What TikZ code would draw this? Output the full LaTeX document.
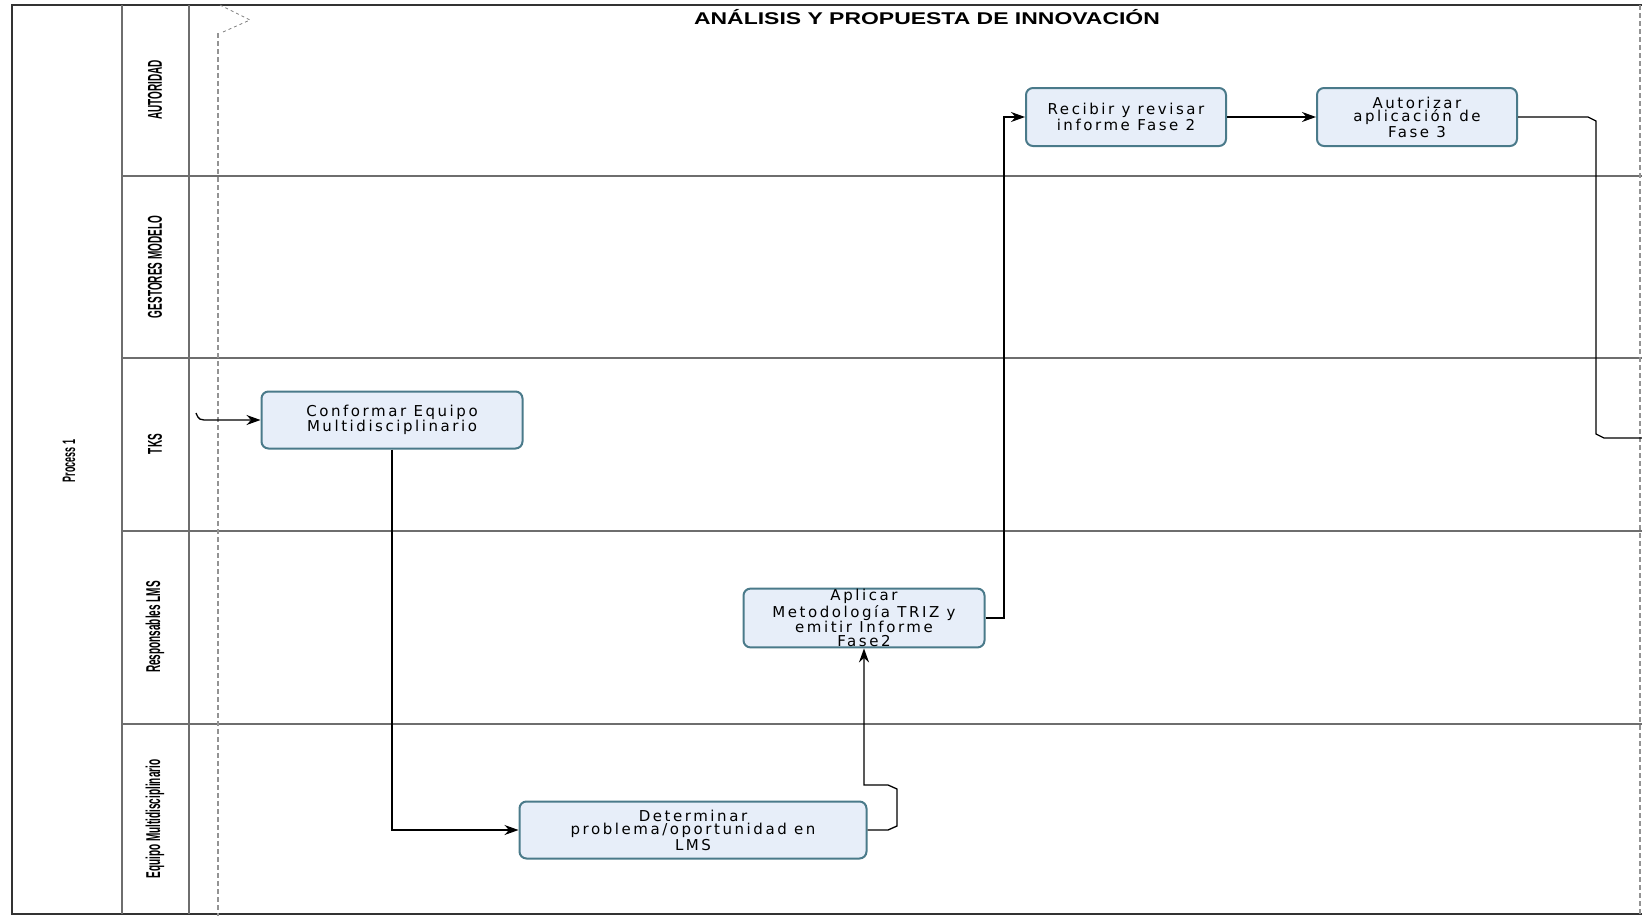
\documentclass[tikz,border=0pt]{standalone}
\usepackage{fontspec}
\usetikzlibrary{arrows.meta}

\newfontfamily\boxfont[LetterSpace=17]{DejaVu Sans}
\newfontfamily\lanefont[FakeStretch=0.5]{Liberation Sans}
\newfontfamily\titlefont[FakeStretch=1.35]{Liberation Sans}

\definecolor{taskfill}{RGB}{231,238,249}
\definecolor{taskline}{RGB}{74,122,138}
\definecolor{laneline}{RGB}{110,110,110}

\begin{document}
\begin{tikzpicture}[x=1pt, y=1pt,
  lane/.style={laneline, line width=1.5pt},
  lanelbl/.style={rotate=90, font=\lanefont\bfseries\fontsize{20}{21}\selectfont},
  task/.style={draw=taskline, fill=taskfill, line width=2pt, rounded corners=7pt,
    align=center, inner sep=1pt, font=\boxfont\fontsize{15}{13.6}\selectfont},
  flow/.style={black, line width=1.3pt},
  tip/.style={-{Stealth[length=14pt, width=10pt]}},
  phase/.style={gray!85, line width=2.6pt, dash pattern=on 5pt off 3pt}]

  \useasboundingbox (0,0) rectangle (1642,-916);
  \fill[white] (0,0) rectangle (1642,-916);

  % pool frame and lanes
  \draw[black!80, line width=1.5pt] (1642,-5) -- (12,-5) -- (12,-914) -- (1642,-914);
  \draw[lane] (122,-5) -- (122,-914);
  \draw[lane] (189,-5) -- (189,-914);
  \foreach \y in {176,358,531,724} { \draw[lane] (122,-\y) -- (1642,-\y); }

  \node[lanelbl, font=\lanefont\bfseries\fontsize{18}{19}\selectfont] (pool) at (69,-461) {Process 1};
  \foreach \nm/\yc/\txt in {aut/90/AUTORIDAD, ges/267/GESTORES MODELO, tks/444/TKS,
      res/627/Responsables LMS, equ/819/Equipo Multidisciplinario}
    \node[lanelbl] (lane-\nm) at (155,-\yc) {\txt};

  % phase
  \draw[phase] (218,-33) -- (218,-916);
  \draw[phase] (1640,-5) -- (1640,-916);
  \draw[gray, line width=0.8pt, dashed] (220,-5) -- (250,-20) -- (223,-32);
  \node[font=\titlefont\bfseries\fontsize{17}{18}\selectfont] (title) at (927,-17)
    {ANÁLISIS Y PROPUESTA DE INNOVACIÓN};

  % tasks
  \node[task, minimum width=261pt, minimum height=57pt] (conformar) at (392,-420)
    {Conformar Equipo\\Multidisciplinario};
  \node[task, minimum width=347pt, minimum height=57pt] (determinar) at (693,-830)
    {Determinar\\problema/oportunidad en\\LMS};
  \node[task, minimum width=241pt, minimum height=57pt] (aplicar) at (864,-618)
    {Aplicar\\Metodología TRIZ y\\emitir Informe\\Fase2};
  \node[task, minimum width=200pt, minimum height=58pt] (recibir) at (1126,-117)
    {Recibir y revisar\\informe Fase 2};
  \node[task, minimum width=200pt, minimum height=58pt] (autorizar) at (1417,-117)
    {Autorizar\\aplicación de\\Fase 3};

  % flows
  \coordinate (start) at (196,-413);
  \coordinate (exit) at (1642,-438);
  \draw[flow, tip] (start) .. controls (199,-420) .. (210,-420) -- (conformar.west);
  \draw[flow, tip] (conformar.south) |- (determinar.west);
  \draw[flow, tip] (determinar.east) -- (888,-830) -- (897,-826) -- (897,-789)
    -- (888,-785) -- (864,-785) -- (aplicar.south);
  \draw[flow, tip] (aplicar.east) -- (1004,-618) -- (1004,-117) -- (recibir.west);
  \draw[flow, tip] (recibir) -- (autorizar);
  \draw[flow] (autorizar.east) -- (1588,-117) -- (1596,-121) -- (1596,-434)
    -- (1604,-438) -- (exit);
\end{tikzpicture}
\end{document}
